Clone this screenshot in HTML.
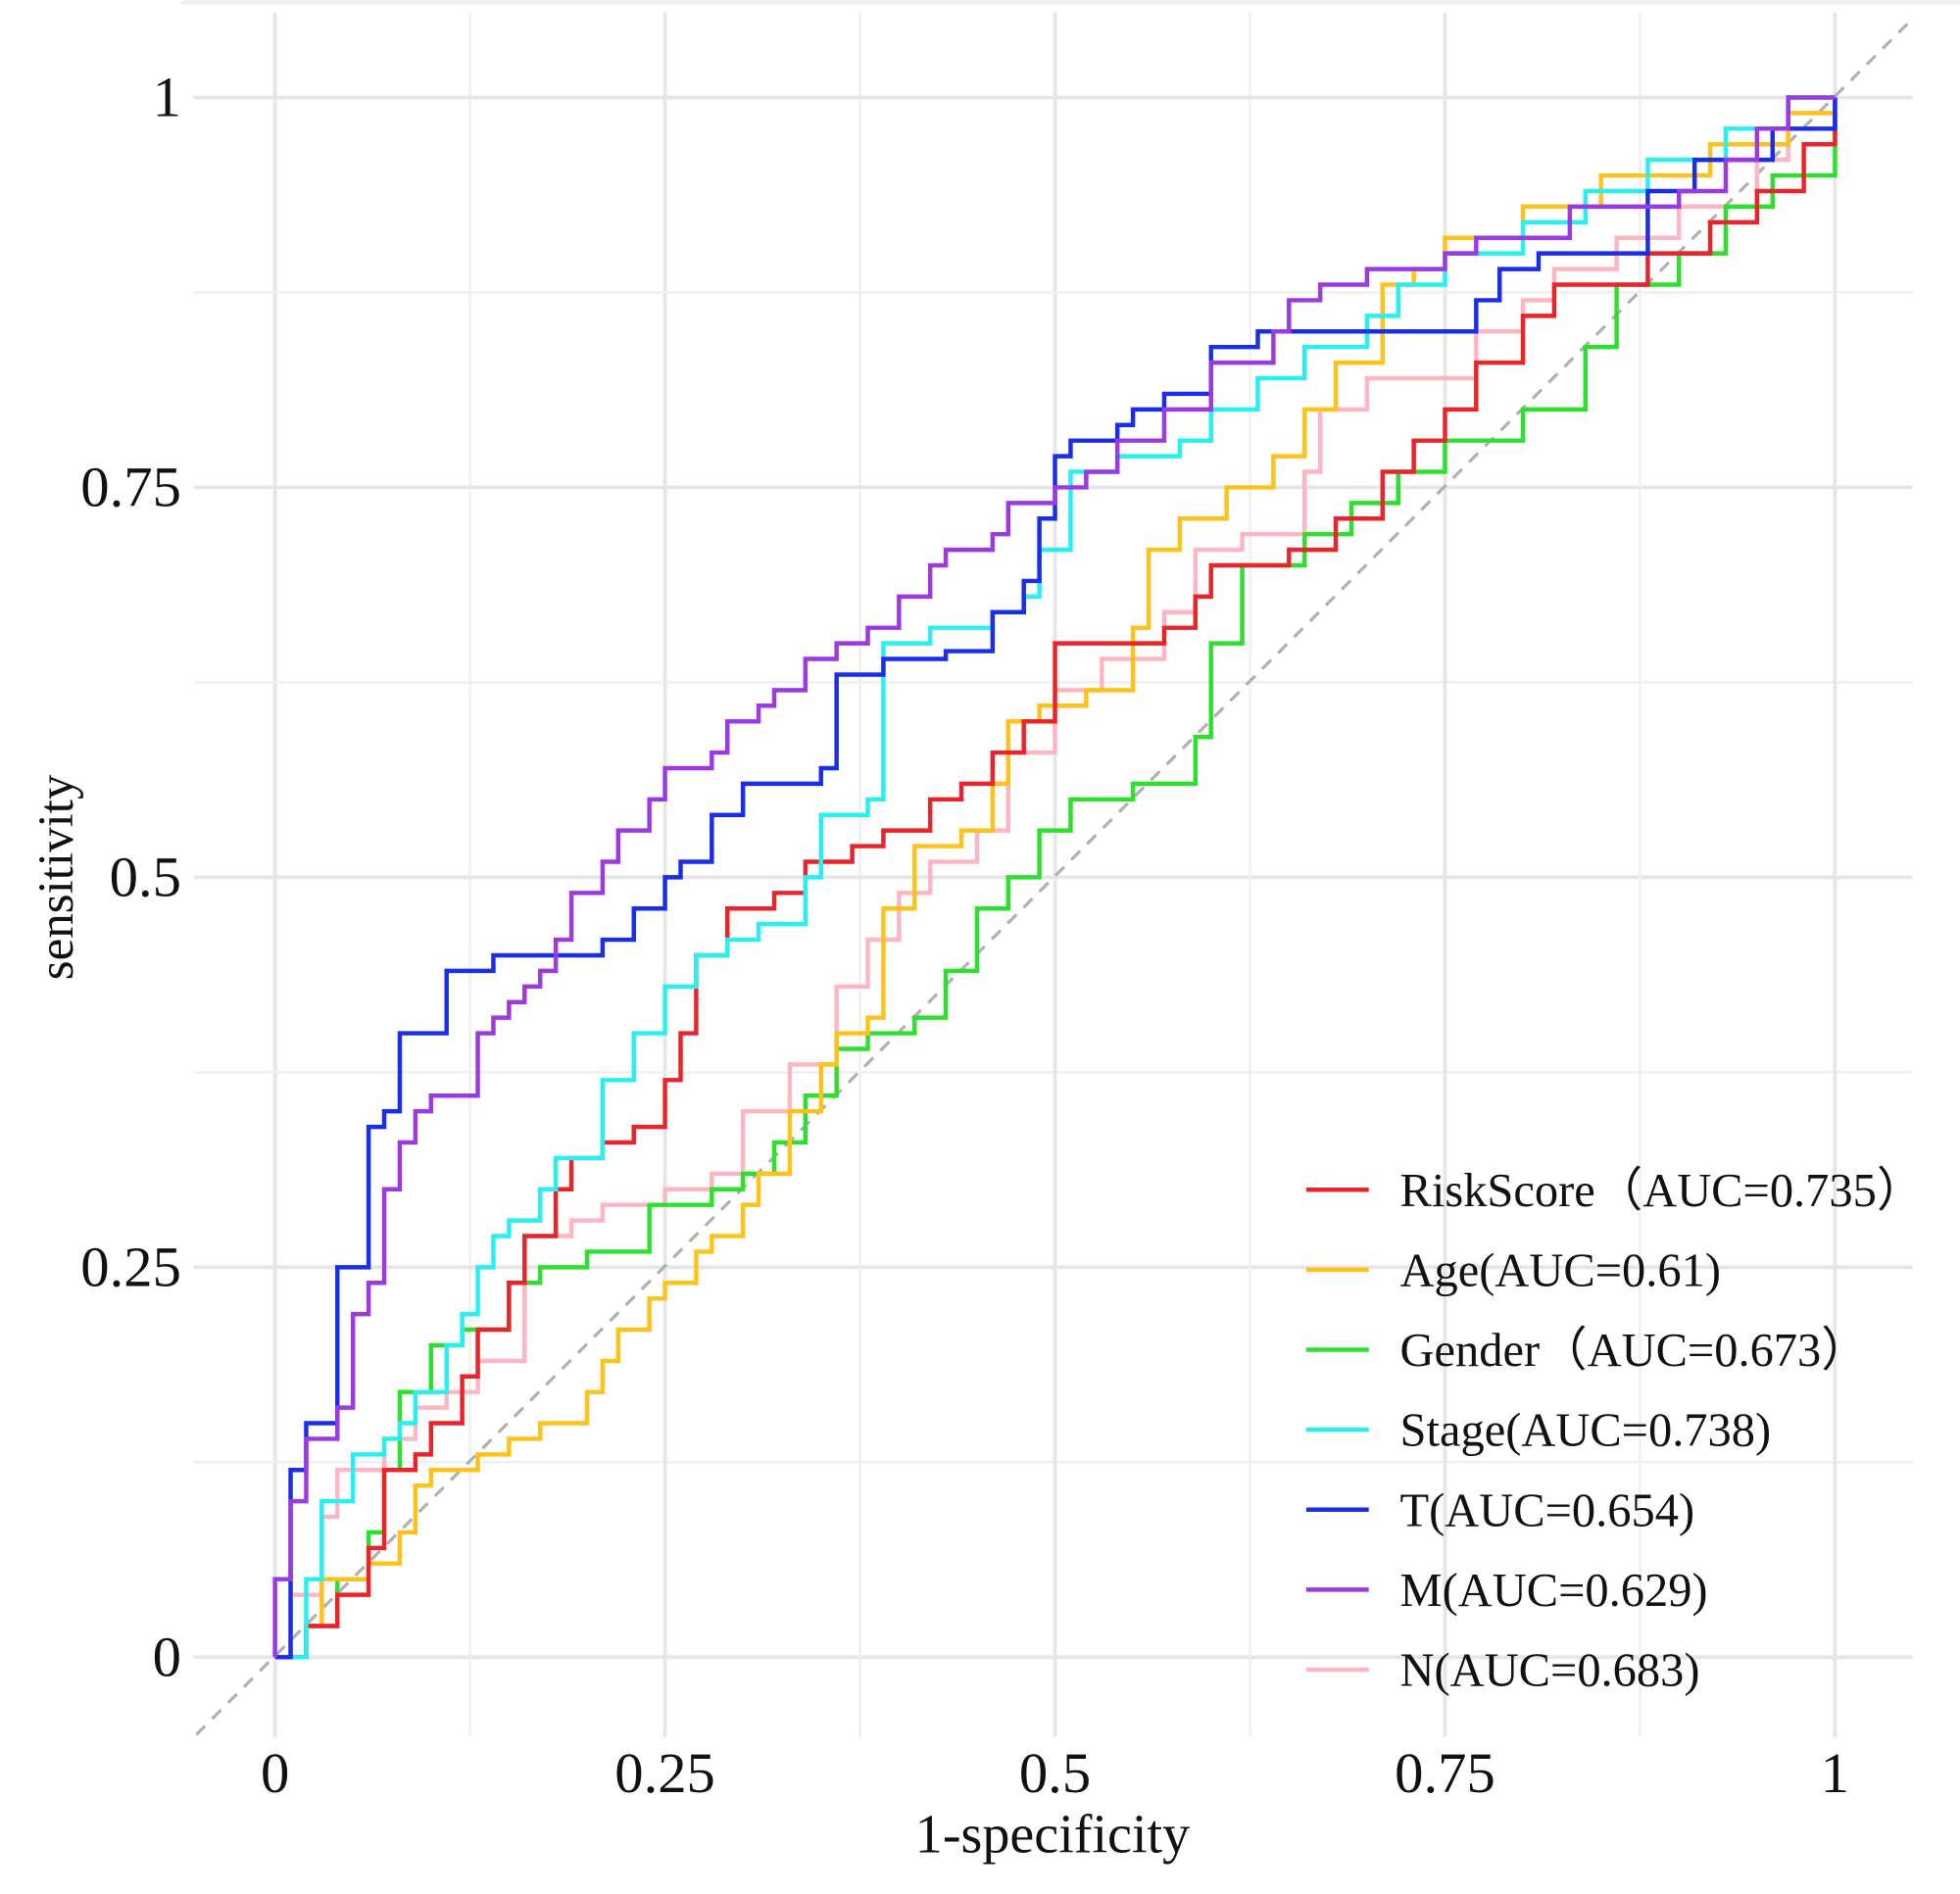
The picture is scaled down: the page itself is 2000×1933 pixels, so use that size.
<!DOCTYPE html>
<html><head><meta charset="utf-8">
<style>
html,body{margin:0;padding:0;background:#fff;}
svg{display:block;}
text{font-family:"Liberation Serif",serif;fill:#111;}
</style></head>
<body>
<svg id="chart" width="2000" height="1933" viewBox="0 0 1568 1515.5" preserveAspectRatio="none" xmlns="http://www.w3.org/2000/svg">
<g id="grid"></g>
<line x1="157" y1="1388" x2="1530" y2="15" stroke="#b0b0b0" stroke-width="2.5" stroke-dasharray="10,8"/>
<g id="series"></g>
<g id="ticks"></g>
<text x="842" y="1482" font-size="44" text-anchor="middle">1-specificity</text>
<text transform="translate(58,702) rotate(-90)" font-size="40" text-anchor="middle">sensitivity</text>
<g id="legend"></g>
</svg>
<script>
const tickValues = [0, 0.25, 0.5, 0.75, 1];
const tickLabels = ["0", "0.25", "0.5", "0.75", "1"];
const seriesNames = ["RiskScore（AUC=0.735）", "Age(AUC=0.61)", "Gender（AUC=0.673）", "Stage(AUC=0.738)", "T(AUC=0.654)", "M(AUC=0.629)", "N(AUC=0.683)"];
const seriesColors = ["#e8252a", "#ffc21a", "#2ee02e", "#28f0f0", "#1a2ee8", "#9a3ae0", "#ffb6c1"];
const riskFpr = [0.02,0.04,0.06,0.07,0.09,0.10,0.12,0.13,0.15,0.16,0.18,0.19,0.21,0.23,0.25,0.26,0.27,0.29,0.32,0.34,0.37,0.39,0.42,0.44,0.46,0.48,0.50,0.53,0.57,0.59,0.60,0.65,0.68,0.71,0.73,0.75,0.77,0.80,0.82,0.88,0.92,0.95,0.98,1];
const riskTpr = [0.02,0.04,0.07,0.12,0.13,0.15,0.18,0.21,0.24,0.27,0.30,0.32,0.33,0.34,0.37,0.40,0.45,0.48,0.49,0.51,0.52,0.53,0.55,0.56,0.58,0.60,0.65,0.65,0.66,0.68,0.70,0.71,0.73,0.76,0.78,0.80,0.83,0.86,0.88,0.90,0.92,0.94,0.97,0.99];
const ageFpr = [0.02,0.03,0.06,0.08,0.09,0.10,0.13,0.15,0.17,0.20,0.21,0.22,0.24,0.25,0.27,0.28,0.30,0.31,0.33,0.35,0.36,0.38,0.39,0.41,0.44,0.46,0.47,0.49,0.52,0.55,0.56,0.58,0.61,0.64,0.66,0.68,0.71,0.73,0.75,0.80,0.85,0.92,0.97,1];
const ageTpr = [0.02,0.05,0.06,0.08,0.11,0.12,0.13,0.14,0.15,0.17,0.19,0.21,0.23,0.24,0.26,0.27,0.29,0.31,0.35,0.38,0.40,0.41,0.48,0.52,0.53,0.56,0.60,0.61,0.62,0.66,0.71,0.73,0.75,0.77,0.80,0.83,0.88,0.89,0.91,0.93,0.95,0.97,0.99,1];
const genderFpr = [0.02,0.04,0.06,0.07,0.08,0.10,0.12,0.14,0.15,0.17,0.20,0.24,0.28,0.30,0.32,0.34,0.36,0.38,0.41,0.43,0.45,0.47,0.49,0.51,0.55,0.59,0.60,0.62,0.66,0.69,0.72,0.75,0.80,0.84,0.86,0.90,0.93,0.96,1,1];
const genderTpr = [0.02,0.05,0.08,0.12,0.17,0.20,0.21,0.21,0.24,0.25,0.26,0.29,0.30,0.31,0.33,0.36,0.39,0.40,0.41,0.44,0.48,0.50,0.53,0.55,0.56,0.59,0.65,0.70,0.72,0.74,0.76,0.78,0.80,0.84,0.88,0.90,0.93,0.95,0.97,1];
const stageFpr = [0.02,0.03,0.05,0.07,0.08,0.09,0.11,0.12,0.13,0.14,0.15,0.17,0.18,0.21,0.21,0.23,0.25,0.27,0.29,0.31,0.34,0.35,0.38,0.39,0.42,0.46,0.48,0.49,0.51,0.54,0.58,0.60,0.63,0.66,0.70,0.72,0.75,0.80,0.84,0.88,0.93,0.97,1];
const stageTpr = [0.05,0.10,0.13,0.14,0.15,0.17,0.20,0.22,0.25,0.27,0.28,0.30,0.32,0.33,0.37,0.40,0.43,0.45,0.46,0.47,0.50,0.54,0.55,0.65,0.66,0.67,0.68,0.71,0.76,0.77,0.78,0.80,0.82,0.84,0.86,0.88,0.90,0.92,0.94,0.96,0.98,1.0,1];
const tFpr = [0.01,0.02,0.04,0.06,0.07,0.08,0.11,0.14,0.21,0.23,0.25,0.26,0.28,0.30,0.35,0.36,0.39,0.43,0.46,0.48,0.49,0.50,0.51,0.54,0.55,0.57,0.60,0.63,0.77,0.785,0.81,0.88,0.91,0.96,1];
const tTpr = [0.12,0.15,0.25,0.34,0.35,0.40,0.44,0.45,0.46,0.48,0.50,0.51,0.54,0.56,0.57,0.63,0.64,0.645,0.67,0.69,0.73,0.77,0.78,0.79,0.80,0.81,0.84,0.85,0.87,0.89,0.90,0.94,0.96,0.98,1.0];
const mFpr = [0,0.01,0.02,0.04,0.05,0.06,0.07,0.08,0.09,0.10,0.12,0.13,0.14,0.15,0.16,0.17,0.18,0.19,0.21,0.22,0.24,0.25,0.28,0.29,0.31,0.32,0.34,0.36,0.38,0.40,0.42,0.43,0.46,0.47,0.50,0.52,0.54,0.57,0.60,0.64,0.65,0.67,0.70,0.75,0.77,0.83,0.90,0.93,0.95,0.97,1];
const mTpr = [0.05,0.10,0.14,0.16,0.22,0.24,0.30,0.33,0.35,0.36,0.36,0.40,0.41,0.42,0.43,0.44,0.46,0.49,0.51,0.53,0.55,0.57,0.58,0.60,0.61,0.62,0.64,0.65,0.66,0.68,0.70,0.71,0.72,0.74,0.75,0.76,0.78,0.80,0.83,0.85,0.87,0.88,0.89,0.90,0.91,0.93,0.94,0.96,0.98,1.0,1];
const nFpr = [0.01,0.03,0.04,0.07,0.09,0.11,0.13,0.16,0.16,0.19,0.21,0.25,0.28,0.30,0.33,0.36,0.38,0.40,0.42,0.45,0.47,0.50,0.53,0.57,0.59,0.62,0.66,0.67,0.70,0.76,0.77,0.80,0.82,0.86,0.90,0.95,0.97,1];
const nTpr = [0.04,0.09,0.12,0.14,0.16,0.17,0.19,0.19,0.27,0.28,0.29,0.30,0.31,0.35,0.38,0.43,0.46,0.49,0.51,0.53,0.58,0.62,0.64,0.67,0.71,0.72,0.76,0.80,0.82,0.82,0.85,0.87,0.89,0.91,0.93,0.96,1.0,1];

const X0 = 220, X1 = 1468, Y0 = 1326, Y1 = 78;
function sx(v){ return X0 + v * (X1 - X0); }
function sy(v){ return Y0 - v * (Y0 - Y1); }
const NS = "http://www.w3.org/2000/svg";
function mk(tag, attrs, parent){ const e = document.createElementNS(NS, tag); for (const k in attrs) e.setAttribute(k, attrs[k]); parent.appendChild(e); return e; }

const grid = document.getElementById('grid');
for (let i = 0; i <= 8; i++) {
  const v = i / 8;
  const major = i % 2 === 0;
  const c = major ? "#e6e6e6" : "#f0f0f0";
  const w = major ? 3 : 2;
  const gv = mk('line', {x1: sx(v), x2: sx(v), y1: 10, y2: 1390, stroke: c, 'stroke-width': w}, grid);
  
  
  const gh = mk('line', {x1: 155, x2: 1530, y1: sy(v), y2: sy(v), stroke: c, 'stroke-width': w}, grid);
  
  
}
mk('line', {x1: 145, x2: 1568, y1: 2, y2: 2, stroke: "#eeeeee", 'stroke-width': 3}, grid);

const ticks = document.getElementById('ticks');
tickValues.forEach((v, i) => {
  const tx = mk('text', {x: sx(v), y: 1434, 'font-size': 46, 'text-anchor': 'middle'}, ticks);
  tx.textContent = tickLabels[i];
  
  
  const ty = mk('text', {x: 145, y: sy(v) + 15, 'font-size': 46, 'text-anchor': 'end'}, ticks);
  ty.textContent = tickLabels[i];
  
  
});

const seriesFpr = [riskFpr, ageFpr, genderFpr, stageFpr, tFpr, mFpr, nFpr];
const seriesTpr = [riskTpr, ageTpr, genderTpr, stageTpr, tTpr, mTpr, nTpr];
const seriesKeys = ["riskscore", "age", "gender", "stage", "t", "m", "n"];
const drawOrder = [6, 2, 1, 0, 3, 4, 5];
const sg = document.getElementById('series');
drawOrder.forEach(idx => {
  const fx = seriesFpr[idx], ty = seriesTpr[idx];
  let d = "M" + sx(0) + "," + sy(0);
  let py = 0;
  for (let i = 0; i < fx.length; i++) {
    d += " L" + sx(fx[i]) + "," + sy(py) + " L" + sx(fx[i]) + "," + sy(ty[i]);
    py = ty[i];
  }
  const p = mk('path', {d: d, fill: 'none', stroke: seriesColors[idx], 'stroke-width': 3.5, 'stroke-linejoin': 'miter'}, sg);
  
  
});

const lg = document.getElementById('legend');
seriesNames.forEach((name, i) => {
  const y = 952 + i * 64;
  const l = mk('line', {x1: 1045, x2: 1095, y1: y, y2: y, stroke: seriesColors[i], 'stroke-width': 3.5}, lg);
  
  
  const t = mk('text', {x: 1120, y: y + 13, 'font-size': 38}, lg);
  t.textContent = name;
  
  
});
</script>
</body></html>
